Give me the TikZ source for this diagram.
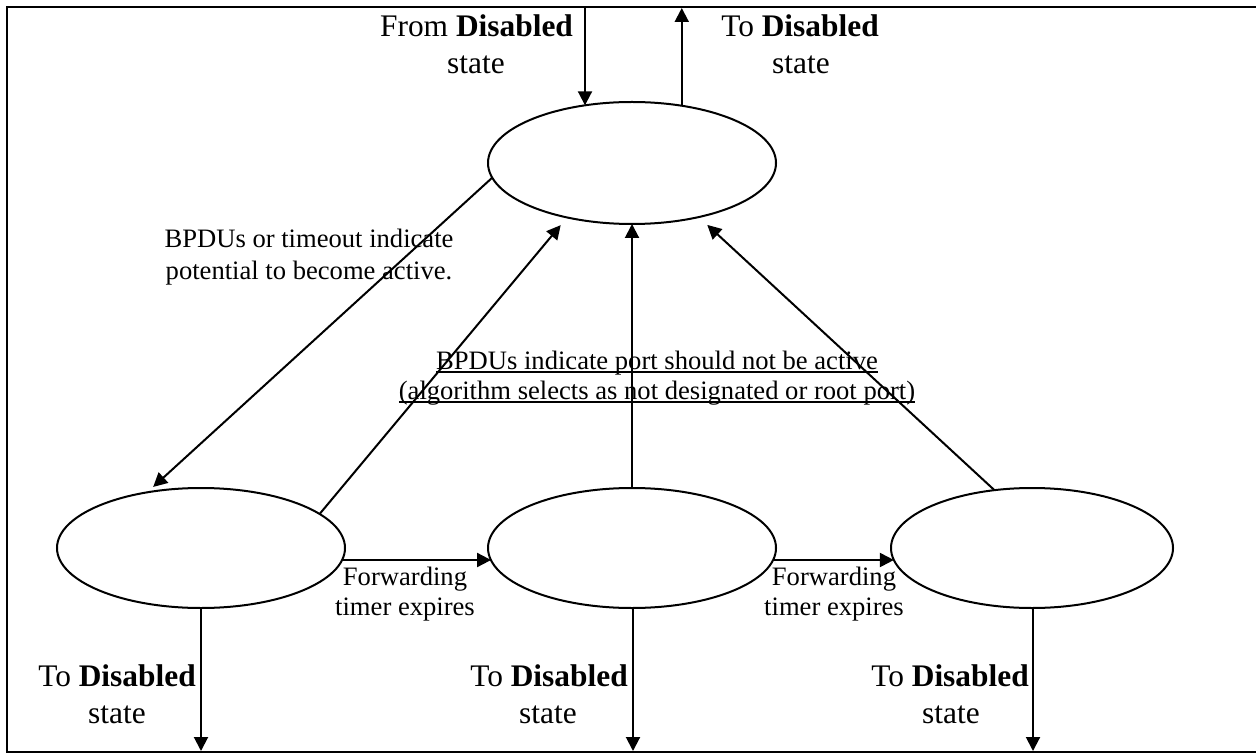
\documentclass[tikz,border=0pt]{standalone}
\usepackage{fontspec}
\setmainfont{Liberation Serif}
\usetikzlibrary{arrows.meta,shapes.geometric}
\newcommand\myul[1]{\setbox0\hbox{#1}\rlap{\rule[-2pt]{\wd0}{0.9pt}}\box0}
\begin{document}
\begin{tikzpicture}[x=0.5pt,y=-0.5pt,
 state/.style={draw,ellipse,line width=1pt,minimum width=144pt,minimum height=60pt,inner sep=0pt,outer sep=0pt},
 conn/.style={line width=1pt,-{Triangle[length=7pt,width=7pt]}},
 big/.style={font=\fontsize{15.7}{18.5}\selectfont,inner sep=0pt,anchor=base},
 small/.style={font=\fontsize{13.3}{15.5}\selectfont,inner sep=0pt,anchor=base}]
\useasboundingbox (0,0) rectangle (1256,753);
% frame
\draw[line width=1pt] (1256,7) -- (7,7) -- (7,752) -- (1256,752);
% states
\node[state,minimum height=61pt] (top) at (632,163) {};
\node[state] (bl) at (201,548) {};
\node[state] (mid) at (632,548) {};
\node[state,minimum width=141pt] (br) at (1032,548) {};
% free ends
\coordinate (inT) at (585,7);
\coordinate (outT) at (681,8);
\coordinate (blO) at (201,751);
\coordinate (midO) at (633,751);
\coordinate (brO) at (1033,751);
\coordinate (hy) at (0,560);
% connectors
\draw[conn] (inT) -- (inT |- top.129.16);
\draw[conn] (top.49.5) -- (top.49.5 |- outT);
\draw[conn,shorten >=4pt] (top.-174.3) -- (bl.134);
\draw[conn,shorten >=5pt] (bl.16.4) -- (top.-140.4);
\draw[conn] (mid.north) -- (top.south);
\draw[conn,shorten >=5.8pt] (br.123) -- (top.-39.1);
\draw[conn] (bl.-4.9 |- hy) -- (mid.-175.1 |- hy);
\draw[conn] (mid.-4.9 |- hy) -- (br.-175.1 |- hy);
\draw[conn] (bl.south) -- (bl.south |- blO);
\draw[conn] (mid.south -| midO) -- (midO);
\draw[conn] (br.south -| brO) -- (brO);
% labels
\node[big] (fromA) at (476.5,37) {From \textbf{Disabled}};
\node[big] (fromB) at (476,74) {state};
\node[big] (toA) at (800,37) {To \textbf{Disabled}};
\node[big] (toB) at (801,74) {state};
\node[small] (bp1) at (309,248) {BPDUs or timeout indicate};
\node[small] (bp2) at (309,280) {potential to become active.};
\node[small] (ul1) at (657,369) {\myul{BPDUs indicate port should not be active}};
\node[small] (ul2) at (657,399) {\myul{(algorithm selects as not designated or root port)}};
\node[small] (fw1a) at (405,585) {Forwarding};
\node[small] (fw1b) at (405,615) {timer expires};
\node[small] (fw2a) at (834,585) {Forwarding};
\node[small] (fw2b) at (834,615) {timer expires};
\node[big] (d1a) at (117,686) {To \textbf{Disabled}};
\node[big] (d1b) at (117,723) {state};
\node[big] (d2a) at (549,686) {To \textbf{Disabled}};
\node[big] (d2b) at (548,723) {state};
\node[big] (d3a) at (950,686) {To \textbf{Disabled}};
\node[big] (d3b) at (951,723) {state};
\end{tikzpicture}
\end{document}
